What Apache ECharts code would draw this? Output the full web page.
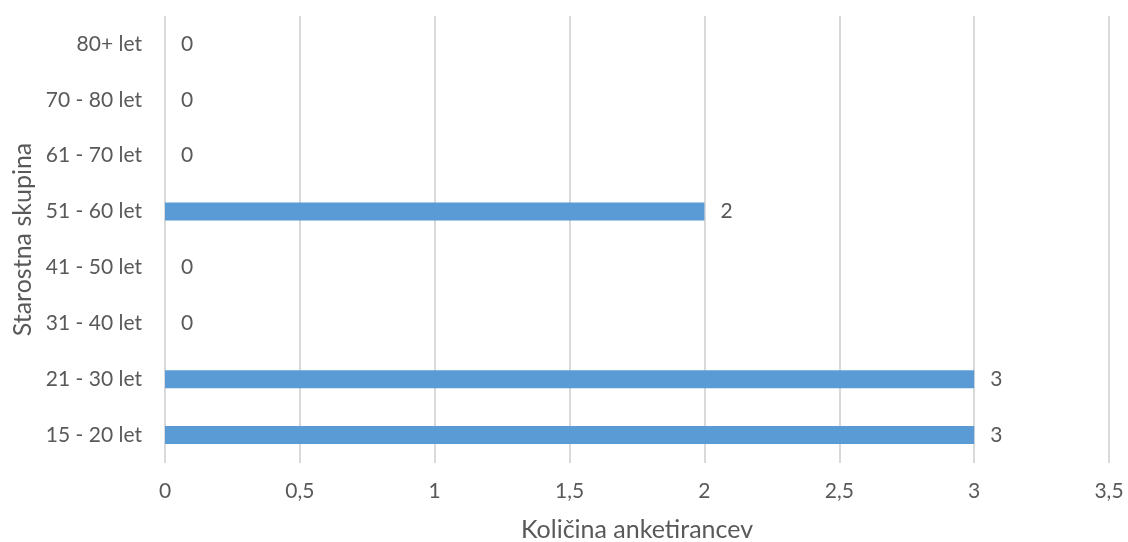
<!DOCTYPE html>
<html>
<head>
<meta charset="utf-8">
<script src="https://cdn.jsdelivr.net/npm/echarts@6/dist/echarts.min.js"></script>
<style>
  html, body { margin: 0; padding: 0; background: #fff; }
  #chart { width: 1128px; height: 542px; }
</style>
</head>
<body>
<div id="chart"></div>
<script>
var categories = ['15 - 20 let', '21 - 30 let', '31 - 40 let', '41 - 50 let', '51 - 60 let', '61 - 70 let', '70 - 80 let', '80+ let'];
var counts = [3, 3, 0, 0, 2, 0, 0, 0];

var chart = echarts.init(document.getElementById('chart'));
var textColor = '#595959';
var font = 'Lato';

var option = {
    animation: false,
    grid: { left: 165, right: 19, top: 16, bottom: 79, outerBoundsMode: 'none', containLabel: false },
    xAxis: {
        type: 'value',
        min: 0,
        max: 3.5,
        interval: 0.5,
        name: 'Količina anketirancev',
        nameLocation: 'middle',
        nameGap: 54,
        nameTextStyle: { color: textColor, fontSize: 25, fontFamily: font },
        axisLine: { show: false },
        axisTick: { show: false },
        axisLabel: {
            color: textColor, fontSize: 21, fontFamily: font, margin: 18,
            formatter: function (v) { return String(v).replace('.', ','); }
        },
        splitLine: { show: true, lineStyle: { color: '#d9d9d9', width: 2 } }
    },
    yAxis: {
        type: 'category',
        data: categories,
        name: 'Starostna skupina',
        nameLocation: 'middle',
        nameGap: 128,
        nameTextStyle: { color: textColor, fontSize: 25, fontFamily: font },
        axisLine: { show: false },
        axisTick: { show: false },
        axisLabel: { color: textColor, fontSize: 21, fontFamily: font, margin: 23 }
    },
    series: [{
        type: 'bar',
        data: counts,
        barWidth: 18,
        itemStyle: { color: '#5b9bd5' },
        label: {
            show: true,
            position: 'right',
            distance: 16,
            color: textColor,
            fontSize: 21,
            fontFamily: font
        }
    }]
};

option && chart.setOption(option);
</script>
</body>
</html>
